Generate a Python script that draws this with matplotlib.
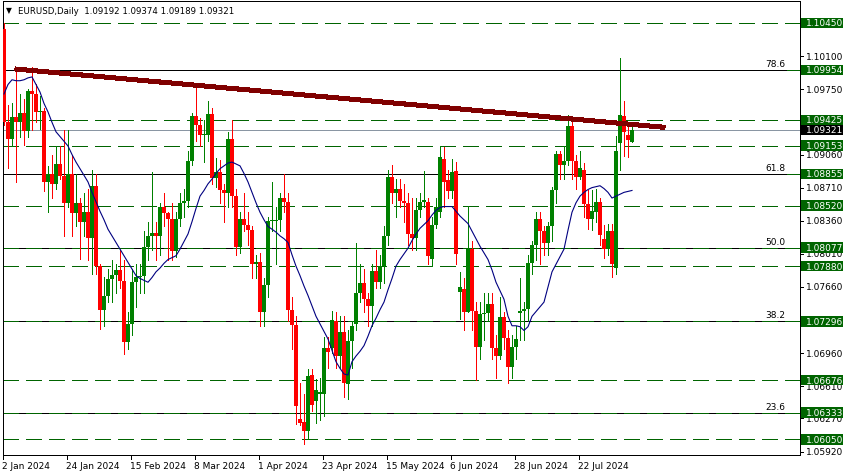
import matplotlib
matplotlib.use("Agg")
import matplotlib.pyplot as plt
import matplotlib.transforms as mtransforms
from matplotlib.patches import Rectangle
import numpy as np
import pandas as pd

plt.rcParams['font.family'] = ['DejaVu Sans']
plt.rcParams['lines.scale_dashes'] = False

# ---------------- data ----------------
symbol = "EURUSD,Daily"
header_ohlc = ["1.09192", "1.09374", "1.09189", "1.09321"]
dates = pd.bdate_range("2024-01-02", "2024-08-08")

opens = [1.1039, 1.0940, 1.0922, 1.0946, 1.0940, 1.0950, 1.0931, 1.0973, 1.0970, 1.0951,
         1.0952, 1.0877, 1.0885, 1.0875, 1.0896, 1.0883, 1.0855, 1.0885, 1.0844, 1.0855,
         1.0835, 1.0845,
         1.0818, 1.0873, 1.0788, 1.0742, 1.0756, 1.0774, 1.0779, 1.0784, 1.0772, 1.0708,
         1.0727, 1.0771, 1.0777, 1.0778, 1.0808, 1.0820, 1.0823, 1.0820, 1.0850, 1.0844,
         1.0838,
         1.0804, 1.0838, 1.0855, 1.0857, 1.0899, 1.0947, 1.0937, 1.0927, 1.0927, 1.0949,
         1.0881, 1.0888, 1.0868, 1.0865, 1.0922, 1.0862, 1.0808, 1.0838, 1.0832, 1.0826,
         1.0790,
         1.0792, 1.0740, 1.0768, 1.0836, 1.0836, 1.0837, 1.0860, 1.0856, 1.0742, 1.0726,
         1.0626, 1.0623, 1.0614, 1.0673, 1.0645, 1.0653, 1.0653, 1.0702, 1.0702, 1.0730,
         1.0693, 1.0718,
         1.0663, 1.0709, 1.0727, 1.0760, 1.0770, 1.0753, 1.0746, 1.0783, 1.0771, 1.0788,
         1.0820, 1.0882, 1.0865, 1.0870, 1.0857, 1.0855, 1.0822, 1.0818, 1.0847, 1.0856,
         1.0856, 1.0796, 1.0832,
         1.0845, 1.0901, 1.0879, 1.0867, 1.0889, 1.0761, 1.0764, 1.0740, 1.0806, 1.0741,
         1.0703, 1.0737, 1.0738, 1.0748, 1.0702, 1.0693, 1.0734, 1.0712, 1.0681, 1.0703,
         1.0738, 1.0741, 1.0743, 1.0791, 1.0810, 1.0838, 1.0825, 1.0813, 1.0830, 1.0868,
         1.0907, 1.0895, 1.0899, 1.0936, 1.0899, 1.0882, 1.0890, 1.0854, 1.0838, 1.0845,
         1.0856, 1.0817, 1.0806,
         1.0825, 1.0786, 1.0918, 1.0947, 1.0927, 1.09192]

highs = [1.1045, 1.0958, 1.0960, 1.0998, 1.0970, 1.0965, 1.0975, 1.0999, 1.0980, 1.0968,
         1.0955, 1.0894, 1.0905, 1.0915, 1.0915, 1.0932, 1.0932, 1.0905, 1.0885, 1.0860,
         1.0865, 1.0870,
         1.0890, 1.0885, 1.0790, 1.0777, 1.0785, 1.0795, 1.0790, 1.0805, 1.0795, 1.0740,
         1.0785, 1.0790, 1.0790, 1.0825, 1.0835, 1.0888, 1.0835, 1.0855, 1.0865, 1.0845,
         1.0855,
         1.0845, 1.0865, 1.0870, 1.0910, 1.0950, 1.0981, 1.0945, 1.0942, 1.0963, 1.0955,
         1.0902, 1.0900, 1.0875, 1.0930, 1.0942, 1.0870, 1.0845, 1.0865, 1.0845, 1.0830,
         1.0800,
         1.0802, 1.0775, 1.0840, 1.0877, 1.0850, 1.0865, 1.0885, 1.0865, 1.0755, 1.0735,
         1.0665, 1.0653, 1.0679, 1.0679, 1.0669, 1.0670, 1.0713, 1.0713, 1.0741, 1.0740,
         1.0735, 1.0735,
         1.0720, 1.0730, 1.0812, 1.0790, 1.0785, 1.0760, 1.0790, 1.0805, 1.0800, 1.0830,
         1.0890, 1.0895, 1.0880, 1.0880, 1.0875, 1.0865, 1.0860, 1.0860, 1.0865, 1.0889,
         1.0860, 1.0840, 1.0860,
         1.0915, 1.0914, 1.0890, 1.0901, 1.0898, 1.0782, 1.0775, 1.0852, 1.0815, 1.0750,
         1.0750, 1.0760, 1.0760, 1.0760, 1.0715, 1.0755, 1.0740, 1.0720, 1.0715, 1.0725,
         1.0776, 1.0750, 1.0800, 1.0815, 1.0845, 1.0845, 1.0830, 1.0835, 1.0872, 1.0910,
         1.0910, 1.0915, 1.0948, 1.0945, 1.0905, 1.0910, 1.0897, 1.0868, 1.0868, 1.0870,
         1.0860, 1.0832, 1.0833,
         1.0833, 1.0926, 1.1008, 1.0963, 1.0940, 1.09374]

lows = [1.0937, 1.0892, 1.0915, 1.0877, 1.0925, 1.0916, 1.0925, 1.0932, 1.0940, 1.0933,
        1.0867, 1.0845, 1.0860, 1.0870, 1.0880, 1.0820, 1.0850, 1.0820, 1.0830, 1.0796,
        1.0820, 1.0795,
        1.0780, 1.0780, 1.0722, 1.0725, 1.0750, 1.0750, 1.0760, 1.0765, 1.0695, 1.0700,
        1.0715, 1.0745, 1.0760, 1.0760, 1.0795, 1.0805, 1.0795, 1.0800, 1.0830, 1.0795,
        1.0795,
        1.0798, 1.0830, 1.0840, 1.0850, 1.0895, 1.0920, 1.0915, 1.0898, 1.0920, 1.0875,
        1.0872, 1.0855, 1.0835, 1.0850, 1.0850, 1.0800, 1.0802, 1.0825, 1.0810, 1.0775,
        1.0775,
        1.0725, 1.0725, 1.0755, 1.0825, 1.0790, 1.0825, 1.0845, 1.0730, 1.0700, 1.0621,
        1.0620, 1.0600, 1.0605, 1.0635, 1.0622, 1.0625, 1.0630, 1.0680, 1.0696, 1.0680,
        1.0680, 1.0650,
        1.0648, 1.0680, 1.0720, 1.0750, 1.0740, 1.0725, 1.0725, 1.0765, 1.0765, 1.0770,
        1.0810, 1.0855, 1.0840, 1.0850, 1.0835, 1.0810, 1.0805, 1.0805, 1.0840, 1.0850,
        1.0790, 1.0788, 1.0828,
        1.0840, 1.0850, 1.0860, 1.0860, 1.0790, 1.0732, 1.0720, 1.0740, 1.0720, 1.0668,
        1.0690, 1.0710, 1.0730, 1.0690, 1.0670, 1.0690, 1.0700, 1.0665, 1.0670, 1.0690,
        1.0710, 1.0710, 1.0730, 1.0780, 1.0795, 1.0790, 1.0800, 1.0800, 1.0815, 1.0855,
        1.0880, 1.0880, 1.0895, 1.0880, 1.0870, 1.0880, 1.0840, 1.0827, 1.0826, 1.0835,
        1.0810, 1.0797, 1.0800,
        1.0777, 1.0780, 1.0890, 1.0904, 1.0903, 1.09189]

closes = [1.0940, 1.0922, 1.0946, 1.0940, 1.0950, 1.0931, 1.0973, 1.0970, 1.0951, 1.0952,
          1.0877, 1.0885, 1.0875, 1.0896, 1.0883, 1.0855, 1.0885, 1.0844, 1.0855, 1.0835,
          1.0845, 1.0818,
          1.0873, 1.0788, 1.0742, 1.0756, 1.0774, 1.0779, 1.0784, 1.0772, 1.0708, 1.0727,
          1.0771, 1.0777, 1.0778, 1.0808, 1.0820, 1.0823, 1.0820, 1.0850, 1.0844, 1.0838,
          1.0804,
          1.0838, 1.0855, 1.0857, 1.0899, 1.0947, 1.0937, 1.0927, 1.0927, 1.0949, 1.0881,
          1.0888, 1.0868, 1.0865, 1.0922, 1.0862, 1.0808, 1.0838, 1.0832, 1.0826, 1.0790,
          1.0792,
          1.0740, 1.0768, 1.0836, 1.0836, 1.0837, 1.0860, 1.0856, 1.0742, 1.0726, 1.0640,
          1.0622, 1.0614, 1.0672, 1.0641, 1.0657, 1.0655, 1.0702, 1.0697, 1.0731, 1.0693,
          1.0718, 1.0665,
          1.0709, 1.0725, 1.0760, 1.0770, 1.0753, 1.0746, 1.0783, 1.0771, 1.0788, 1.0820,
          1.0882, 1.0865, 1.0870, 1.0857, 1.0855, 1.0822, 1.0818, 1.0847, 1.0856, 1.0858,
          1.0799, 1.0832, 1.0850,
          1.0903, 1.0877, 1.0867, 1.0888, 1.0801, 1.0766, 1.0740, 1.0806, 1.0741, 1.0703,
          1.0737, 1.0738, 1.0748, 1.0702, 1.0693, 1.0734, 1.0712, 1.0681, 1.0703, 1.0711,
          1.0741, 1.0743, 1.0791, 1.0810, 1.0838, 1.0825, 1.0813, 1.0830, 1.0868, 1.0907,
          1.0895, 1.0899, 1.0936, 1.0899, 1.0882, 1.0892, 1.0854, 1.0838, 1.0846, 1.0856,
          1.0821, 1.0806, 1.0825,
          1.0790, 1.0910, 1.0948, 1.0930, 1.0921, 1.09321]

ma_values = [1.0970, 1.0980, 1.0985, 1.0984, 1.0984, 1.0985, 1.0987, 1.0988, 1.0980, 1.0972,
             1.0960, 1.0951, 1.0940, 1.0930, 1.0925, 1.0920, 1.0915, 1.0906, 1.0898, 1.0891,
             1.0884, 1.0877, 1.0866, 1.0856, 1.0846, 1.0837, 1.0827, 1.0820, 1.0813, 1.0806,
             1.0799, 1.0792, 1.0785, 1.0778, 1.0775, 1.0773, 1.0771, 1.0776, 1.0782, 1.0786,
             1.0791, 1.0795, 1.0797, 1.0799, 1.0806, 1.0814, 1.0822, 1.0835, 1.0849, 1.0862,
             1.0868, 1.0875, 1.0880, 1.0886, 1.0891, 1.0894, 1.0897, 1.0898, 1.0896, 1.0894,
             1.0886, 1.0877, 1.0866, 1.0855, 1.0845, 1.0837, 1.0830, 1.0827, 1.0824, 1.0820,
             1.0817, 1.0813, 1.0800, 1.0788, 1.0778, 1.0767, 1.0757, 1.0746, 1.0735, 1.0727,
             1.0719, 1.0711, 1.0699, 1.0687, 1.0680, 1.0674, 1.0673, 1.0687, 1.0693, 1.0698,
             1.0704, 1.0714, 1.0725, 1.0733, 1.0742, 1.0750, 1.0763, 1.0775, 1.0788, 1.0795,
             1.0801, 1.0807, 1.0815, 1.0822, 1.0828, 1.0832, 1.0836, 1.0842, 1.0847, 1.0850,
             1.0851, 1.0851, 1.0851, 1.0846, 1.0841, 1.0837, 1.0833, 1.0825, 1.0817, 1.0809,
             1.0802, 1.0795, 1.0784, 1.0771, 1.0762, 1.0753, 1.0735, 1.0725, 1.0725, 1.0724,
             1.0720, 1.0724, 1.0735, 1.0740, 1.0745, 1.0750, 1.0766, 1.0782, 1.0790, 1.0798,
             1.0806, 1.0826, 1.0845, 1.0855, 1.0862, 1.0866, 1.0869, 1.0871, 1.0872, 1.0873,
             1.0870, 1.0866, 1.0860, 1.0862, 1.0864, 1.0866, 1.0867, 1.0868]

level_prices = [1.10450, 1.09954, 1.09425, 1.09153, 1.08855, 1.08520,
                1.08077, 1.07880, 1.07296, 1.06676, 1.06333, 1.06050]
fib_names = ["78.6", "61.8", "50.0", "38.2", "23.6"]
fib_prices = [1.09954, 1.08855, 1.08077, 1.07296, 1.06333]
price_labels = [1.10100, 1.09750, 1.09060, 1.08710, 1.08360, 1.08010,
                1.07660, 1.06960, 1.06610, 1.06270, 1.05920]
current_price = 1.09321
trend_bars = [2.75, 165.25]
trend_prices = [1.09964, 1.09347]
xtick_labels = ["2 Jan 2024", "24 Jan 2024", "15 Feb 2024", "8 Mar 2024", "1 Apr 2024",
                "23 Apr 2024", "15 May 2024", "6 Jun 2024", "28 Jun 2024", "22 Jul 2024"]

# ---------------- styling ----------------
W, H = 845, 477
GREEN = '#008000'
RED = '#ff0000'
DKGREEN = '#006400'
FS = 6.5
PX = 0.72  # one pixel in points at 100 dpi

fig = plt.figure(figsize=(W / 100, H / 100), dpi=100)
fig.patch.set_facecolor('white')
ax_left, ax_right, ax_top, ax_bot = 3, 800, 2, 455.7
ax = fig.add_axes([ax_left / W, 1 - ax_bot / H, (ax_right - ax_left) / W, (ax_bot - ax_top) / H])
ax.set_xlim(-0.25, 199)
ax.set_ylim(1.058872, 1.106825)
ax.set_xticks([])
ax.set_yticks([])
for s in ax.spines.values():
    s.set_color('black')
    s.set_linewidth(PX)
    s.set_antialiased(False)

# fib black lines (solid), ending near labels
fib_end = 195.6
for name, p in zip(fib_names, fib_prices):
    top = name in ("78.6", "61.8")
    ax.plot([-0.25, fib_end], [p, p], color='black', lw=PX, antialiased=False,
            zorder=3 if top else 1.5, solid_capstyle='butt')
    ax.text(fib_end - 0.2, p + 2.0 / 9461, name, ha='right', va='bottom', fontsize=FS,
            color='black', zorder=6)

# green dashed horizontal levels
for p in level_prices:
    ax.axhline(p, color=DKGREEN, lw=PX, dashes=(16 * PX, 8 * PX), antialiased=False,
               zorder=2)

# current price line
ax.axhline(current_price, color='#8a96a3', lw=PX, antialiased=False, zorder=2.2)

# candles
x = np.arange(len(dates))
o = np.array(opens); h = np.array(highs); l = np.array(lows); c = np.array(closes)
up = c >= o
cols = np.where(up, GREEN, RED)
ax.vlines(x, l, h, colors=cols, lw=PX, antialiased=False, zorder=4)
body_lo = np.minimum(o, c)
body_h = np.maximum(np.abs(c - o), 0.00011)
ax.bar(x, body_h, bottom=body_lo, width=0.78, color=cols, linewidth=0,
       antialiased=False, zorder=5)

# moving average
ax.plot(x, ma_values, color='#000080', lw=0.8, antialiased=True, zorder=6)

# trendline
ax.plot(trend_bars, trend_prices, color='#800000', lw=4 * PX, zorder=7,
        solid_capstyle='butt', antialiased=False)

# ---------------- right price axis ----------------
tr_r = mtransforms.blended_transform_factory(fig.transFigure, ax.transData)
for p in price_labels:
    ax.plot([ax_right / W, (ax_right + 3.5) / W], [p, p], color='black', lw=PX,
            transform=tr_r, clip_on=False, antialiased=False, zorder=8)
    ax.text(805.5 / W, p, f"{p:.5f}", transform=tr_r, ha='left', va='center',
            fontsize=FS, color='black', clip_on=False, zorder=8)

box_h = 10.5 / 9461.4
for p in level_prices:
    ax.add_patch(Rectangle((801 / W, p - box_h / 2), 42.5 / W, box_h, transform=tr_r,
                           facecolor=DKGREEN, edgecolor='none', clip_on=False, zorder=9))
    ax.text(805.5 / W, p, f"{p:.5f}", transform=tr_r, ha='left', va='center',
            fontsize=FS, color='white', clip_on=False, zorder=10)
ax.add_patch(Rectangle((801 / W, current_price - box_h / 2), 42.5 / W, box_h, transform=tr_r,
                       facecolor='black', edgecolor='none', clip_on=False, zorder=9))
ax.text(805.5 / W, current_price, f"{current_price:.5f}", transform=tr_r, ha='left',
        va='center', fontsize=FS, color='white', clip_on=False, zorder=10)

# ---------------- bottom date axis ----------------
tr_b = mtransforms.blended_transform_factory(ax.transData, ax.transAxes)
axh = ax_bot - ax_top
for lab in xtick_labels:
    i = dates.get_loc(pd.Timestamp(pd.to_datetime(lab, format="%d %b %Y")))
    xi = i - 0.25
    ax.plot([xi, xi], [0, -4.5 / axh], color='black', lw=PX, transform=tr_b,
            clip_on=False, antialiased=False, zorder=8)
    ax.text(xi - 0.2, -10.5 / axh, lab, transform=tr_b, ha='left', va='center',
            fontsize=FS, color='black', clip_on=False)

# ---------------- header ----------------
fig.text(6 / W, 1 - 10.5 / H, "\u25BC", fontsize=5.5, ha='left', va='center', color='black')
fig.text(17.5 / W, 1 - 11 / H, symbol + "  " + " ".join(header_ohlc), fontsize=6.2,
         ha='left', va='center', color='black')

fig.savefig("out.png", dpi=100, facecolor='white')
